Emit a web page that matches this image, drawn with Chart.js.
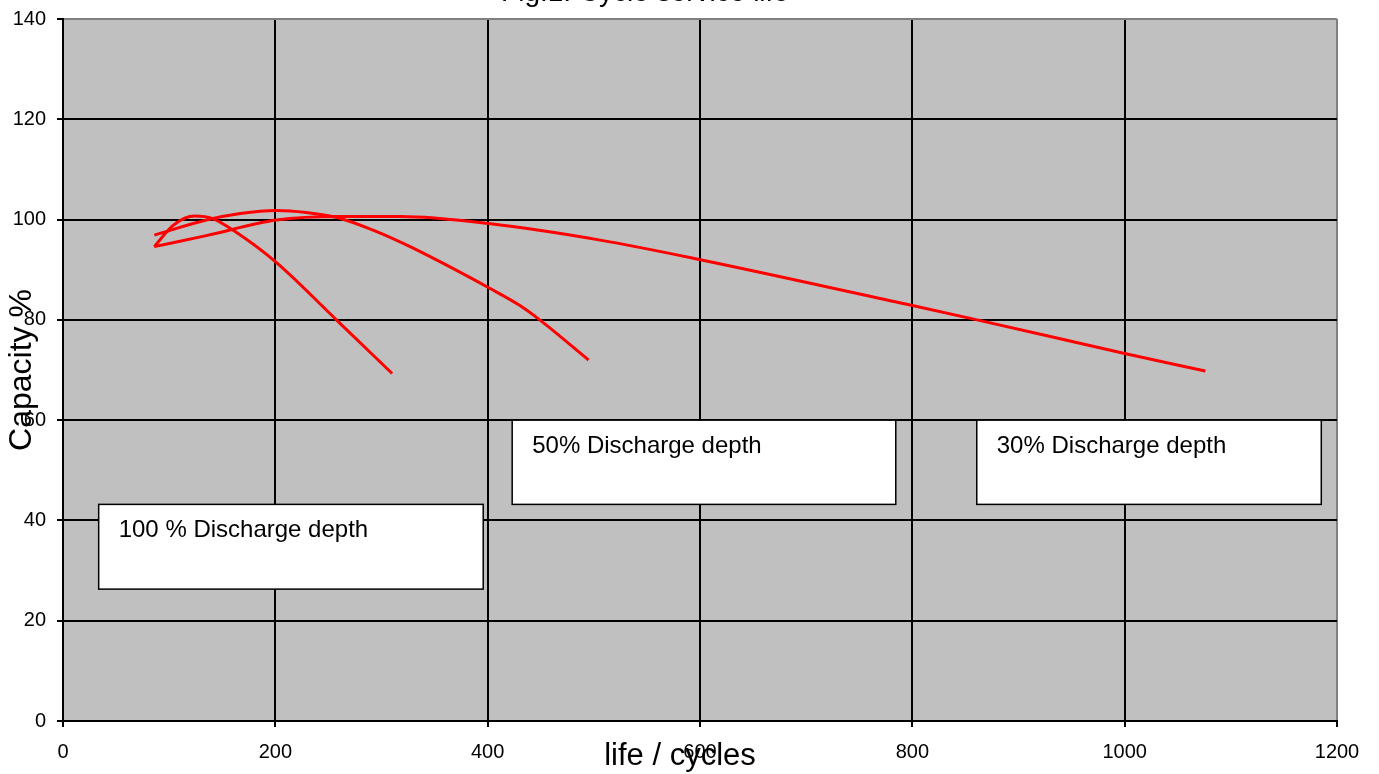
<!DOCTYPE html>
<html>
<head>
<meta charset="utf-8">
<title>Cycle service life</title>
<script src="https://cdn.jsdelivr.net/npm/chart.js@4/dist/chart.umd.min.js"></script>
<style>
    html, body { margin: 0; padding: 0; background: #fff; }
    canvas { display: block; }
</style>
</head>
<body>
<canvas id="lifeChart" width="1379" height="774"></canvas>
<script>
// Capacity (%) over number of cycles, one curve per discharge depth
const cycles100 = [86, 104, 124, 141, 160, 200, 258, 310];
const capacity100 = [94.6, 98.9, 100.7, 100.2, 97.9, 91.6, 79.9, 69.3];

const cycles50 = [86, 135, 167, 201, 229, 258, 292, 324, 355, 401, 430, 449, 495];
const capacity50 = [96.9, 99.9, 101.2, 101.8, 101.4, 100.4, 97.9, 94.9, 91.6, 86.4, 82.9, 80.0, 72.0];

const cycles30 = [86, 135, 201, 261, 318, 401, 506, 598, 799, 861, 1000, 1076];
const capacity30 = [94.6, 96.8, 99.9, 100.6, 100.6, 99.2, 95.9, 92.1, 82.9, 80.0, 73.3, 69.8];

const xTicks = [0, 200, 400, 600, 800, 1000, 1200];
const yTicks = [0, 20, 40, 60, 80, 100, 120, 140];

const depthLabels = ['100 % Discharge depth', '50% Discharge depth', '30% Discharge depth'];

// Label boxes, in axis units
const labelBoxes = [
    { x0: 33.6, x1: 395.8, yTop: 43.2, yBottom: 26.3 },
    { x0: 423.1, x1: 784.4, yTop: 60.0, yBottom: 43.2 },
    { x0: 860.7, x1: 1185.2, yTop: 60.0, yBottom: 43.2 }
];

const FONT = 'Arial, "Liberation Sans", sans-serif';

function toPoints(xs, ys) {
    return xs.map((x, i) => ({ x: x, y: ys[i] }));
}

function curve(xs, ys) {
    return {
        data: toPoints(xs, ys),
        borderColor: '#ff0000',
        borderWidth: 3,
        pointRadius: 0,
        cubicInterpolationMode: 'monotone',
        fill: false
    };
}

// Grey plot area
const plotBackground = {
    id: 'plotBackground',
    beforeDraw(chart) {
        const { ctx, chartArea: a } = chart;
        ctx.save();
        ctx.fillStyle = '#c0c0c0';
        ctx.fillRect(a.left, a.top, a.right - a.left, a.bottom - a.top);
        ctx.restore();
    }
};

// White boxes naming each curve
const depthBoxes = {
    id: 'depthBoxes',
    afterDatasetsDraw(chart) {
        const { ctx, scales } = chart;
        ctx.save();
        labelBoxes.forEach((b, i) => {
            const left = scales.x.getPixelForValue(b.x0);
            const right = scales.x.getPixelForValue(b.x1);
            const top = scales.y.getPixelForValue(b.yTop);
            const bottom = scales.y.getPixelForValue(b.yBottom);
            ctx.fillStyle = '#fff';
            ctx.fillRect(left, top, right - left, bottom - top);
            ctx.strokeStyle = '#000';
            ctx.lineWidth = 1.5;
            ctx.strokeRect(left, top, right - left, bottom - top);
            ctx.fillStyle = '#000';
            ctx.font = '24px ' + FONT;
            ctx.textAlign = 'left';
            ctx.textBaseline = 'alphabetic';
            ctx.fillText(depthLabels[i], left + 20, top + 32.5);
        });
        ctx.restore();
    }
};

// Figure title and x axis caption
const captions = {
    id: 'captions',
    afterDraw(chart) {
        const { ctx } = chart;
        ctx.save();
        ctx.fillStyle = '#000';
        ctx.textAlign = 'center';
        ctx.textBaseline = 'alphabetic';
        ctx.font = '28px ' + FONT;
        ctx.fillText('Fig.1. Cycle service life', 645, 1);
        ctx.font = '31px ' + FONT;
        ctx.fillText('life / cycles', 680, 765);
        ctx.restore();
    }
};

const ctx = document.getElementById('lifeChart');

new Chart(ctx, {
    type: 'line',
    data: {
        datasets: [
            curve(cycles100, capacity100),
            curve(cycles50, capacity50),
            curve(cycles30, capacity30)
        ]
    },
    options: {
        responsive: false,
        animation: false,
        layout: {
            padding: { top: 19, right: 42, left: 0, bottom: 0 }
        },
        plugins: {
            legend: { display: false },
            tooltip: { enabled: false },
            title: { display: false }
        },
        scales: {
            x: {
                type: 'linear',
                min: 0,
                max: 1200,
                afterBuildTicks: axis => {
                    axis.ticks = xTicks.map(v => ({ value: v }));
                },
                afterFit: axis => {
                    axis.height = 53;
                },
                grid: {
                    color: c => (c.tick && c.tick.value === 1200 ? '#808080' : '#000'),
                    tickColor: '#000',
                    lineWidth: 2,
                    tickLength: 6
                },
                border: { color: '#000', width: 2 },
                ticks: {
                    color: '#000',
                    padding: 13,
                    maxRotation: 0,
                    callback: v => String(v),
                    font: { family: FONT, size: 20 }
                }
            },
            y: {
                type: 'linear',
                min: 0,
                max: 140,
                afterBuildTicks: axis => {
                    axis.ticks = yTicks.map(v => ({ value: v }));
                },
                afterFit: axis => {
                    axis.width = 63;
                    axis.paddingTop = 0;
                    axis.paddingBottom = 0;
                },
                grid: {
                    color: c => (c.tick && c.tick.value === 140 ? '#808080' : '#000'),
                    tickColor: '#000',
                    lineWidth: 2,
                    tickLength: 6
                },
                border: { color: '#000', width: 2 },
                ticks: {
                    color: '#000',
                    padding: 11,
                    callback: v => String(v),
                    font: { family: FONT, size: 20 }
                },
                title: {
                    display: true,
                    text: 'Capacity %',
                    color: '#000',
                    padding: { top: 3, bottom: 0 },
                    font: { family: FONT, size: 32 }
                }
            }
        }
    },
    plugins: [plotBackground, depthBoxes, captions]
});
</script>
</body>
</html>
